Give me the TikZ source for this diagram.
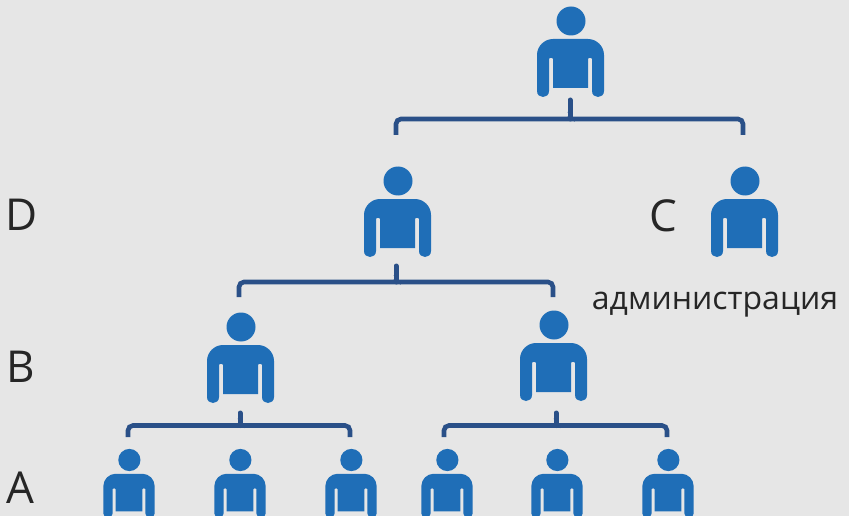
\documentclass[tikz,border=0pt]{standalone}
\usepackage{fontspec}
\setmainfont{Open Sans}
\definecolor{bgc}{HTML}{E6E6E6}
\definecolor{personc}{HTML}{1F6EB7}
\definecolor{linkc}{HTML}{2A5088}
\tikzset{
  x=1pt,y=-1pt,
  person/.pic={
    \fill[personc] (0.5,0) circle[radius=14.5];
    \fill[personc]
      (-33.5,70) -- (-33.5,34) .. controls (-33.5,25) and (-26,18) .. (-17.5,18) -- (17.5,18)
      .. controls (26,18) and (33.5,25) .. (33.5,34) -- (33.5,70)
      .. controls (33.5,78) and (21.5,78) .. (21.5,70) -- (21.5,38)
      .. controls (21.5,36.5) and (17.5,36.5) .. (17.5,38) -- (17.5,67)
      -- (-17.5,67) -- (-17.5,38)
      .. controls (-17.5,36.5) and (-21.5,36.5) .. (-21.5,38) -- (-21.5,70)
      .. controls (-21.5,78) and (-33.5,78) .. (-33.5,70) -- cycle;
  },
  bracket/.style={draw=linkc,line width=4.6pt,line cap=butt,rounded corners=5pt},
  stem/.style={draw=linkc,line width=5pt,line cap=round},
  lab/.style={font=\fontsize{44}{44}\selectfont,text=black!85,inner sep=0pt,anchor=base},
}
\begin{document}
\begin{tikzpicture}
\useasboundingbox (0,0) rectangle (849,516);
\fill[bgc] (0,0) rectangle (849,516);
\begin{scope}
\clip (0,0) rectangle (849,516);
\pic at (570.5,21) {person};
\pic at (397.5,181) {person};
\pic at (744.5,181) {person};
\pic at (240.5,327) {person};
\pic at (553.5,325) {person};
\foreach \xx in {129,240,351,447,557,668}
  \pic[scale=0.765] at (\xx,460) {person};
\end{scope}
% brackets
\coordinate (s1) at (570,100); \coordinate (j1) at (570,119);
\coordinate (l1) at (396,135); \coordinate (r1) at (743,135);
\coordinate (s2) at (396,266); \coordinate (j2) at (396,282);
\coordinate (l2) at (239,297); \coordinate (r2) at (553,297);
\coordinate (s3) at (240,413); \coordinate (j3) at (240,425.5);
\coordinate (l3) at (128,437); \coordinate (r3) at (350,437);
\coordinate (s4) at (556,413); \coordinate (j4) at (556,425.5);
\coordinate (l4) at (444,437); \coordinate (r4) at (667,437);
\foreach \n in {1,2,3,4}{
  \draw[bracket] (l\n) |- (j\n) -| (r\n);
  \draw[stem] (s\n) -- (j\n);
  \fill[linkc] ([shift={(-6,0)}]j\n) .. controls +(3,0) and +(3,2) .. ([shift={(-2.5,-7)}]j\n)
     -- ([shift={(2.5,-7)}]j\n) .. controls +(0,5) and +(-3,7) .. ([shift={(6,0)}]j\n) -- cycle;
}
\node[lab] (d) at (22,230) {D};
\node[lab] (b) at (21,382) {B};
\node[lab] (a) at (20,503) {A};
\node[lab] (c) at (663,231) {C};
\node[font=\fontsize{32}{32}\selectfont,text=black!85,inner sep=0pt,anchor=base] (adm) at (715,309) {администрация};
\end{tikzpicture}
\end{document}
